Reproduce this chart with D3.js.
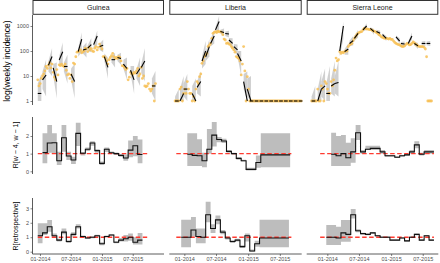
<!DOCTYPE html>
<html lang="en">
<head>
<meta charset="UTF-8">
<title>Ebola weekly incidence and R</title>
<script src="https://d3js.org/d3.v7.min.js"></script>
<style>
  body { margin: 0; background: #fff; }
  text { font-family: "Liberation Sans", Arial, sans-serif; }
  .tick text { fill: #4d4d4d; font-size: 5.5px; }
  .tick line { stroke: #333; stroke-width: 0.6; }
</style>
</head>
<body>
<svg id="chart" width="440" height="263"></svg>
<script>
// ---- data ----
const countries = ["Guinea", "Liberia", "Sierra Leone"];
const firstWeek = ["2013-12-19", "2013-11-09", "2013-10-03"];
const xDomains = [["2013-11-18", "2016-01-01"], ["2013-10-07", "2015-11-03"], ["2013-09-05", "2015-09-28"]];
const xTicks = ["2014-01-01", "2014-07-01", "2015-01-01", "2015-07-01"];
const incTicks = [1, 10, 100, 1000];

// weekly incidence
const incGuinea = [7, 4, 5, 8, 10, 12, 16, 24, 20, 27, 34, 21, 30, 14, 9, 7, 18, 11, 28, 26,
  30, 26, 24, 30, 17, 11, 12, 8, 11, 6, 33, 30, 59, 90, 94, 100, 110, 85, 95, 100,
  130, 120, 95, 140, 110, 125, 100, 95, 130, 150, 110, 140, 190, 150, 120, 60, 59, 50, 40, 30,
  45, 55, 65, 80, 60, 50, 55, 50, 60, 55, 40, 26, 25, 22, 18, 20, 7, 9, 14, 12,
  12, 14, 13, 16, 20, 10, 12, 22, 8, 10, 4, 3.7, 4, 5, 3, 2.5, 3, 4, 1, 5];
const incLiberia = [1, 1, 1, 1, 3, 3.6, 1, 2, 3, 2, 6, 3, 2, 2, 1, 1.5, 1, 3, 6, 5,
  9.4, 12, 32, 40, 59, 70, 80, 150, 170, 200, 320, 510, 560, 600, 550, 620, 580, 600, 560, 450,
  300, 275, 200, 210, 190, 180, 150, 130, 110, 90, 60, 55, 50, 40, 11, 30, 150, 16, 1, 9.4,
  3, 1, 1, 1, 1, 1, 1, 1, 1, 1, 1, 1, 1, 1, 1, 1, 1, 1, 1, 1,
  1, 1, 1, 1, 1, 1, 1, 1, 1, 1, 1, 1, 1, 1, 1, 1, 1, 1, 1, 1, 1, 1, 1, 1];
const incSierraLeone = [1, 1, 1, 1, 1, 3, 1, 1, 4, 3, 1, 6, 5, 3, 2, 2, 6, 4, 7, 17,
  52, 40, 45, 94, 80, 90, 85, 95, 100, 100, 150, 175, 190, 200, 260, 320, 380, 450, 510, 560,
  580, 600, 700, 800, 780, 760, 750, 720, 710, 700, 650, 620, 600, 550, 510, 450, 420, 370, 350, 330,
  320, 330, 310, 300, 320, 290, 290, 250, 220, 200, 190, 180, 175, 160, 150, 150, 160, 180, 200, 190,
  175, 180, 200, 230, 210, 190, 175, 160, 150, 150, 150, 150, 140, 120, 59, 1, 1, 1, 1];

// projections: [start week, median start, median end, low start, high start, low end, high end]
const projGuinea = [[0, 2, 2, 1, 5, 1, 12], [4, 7, 11, 3, 15, 1.5, 45], [9, 27, 60, 15, 40, 10, 130],
  [13, 21, 6, 10, 30, 1.3, 35], [18, 44, 94, 25, 60, 25, 220], [22, 24, 24, 15, 35, 5, 70],
  [28, 12, 6, 7, 20, 1.3, 30], [34, 94, 300, 60, 130, 90, 550], [38, 110, 120, 80, 150, 55, 220],
  [42, 130, 180, 100, 170, 90, 320], [47, 180, 400, 130, 230, 180, 650], [52, 150, 170, 110, 200, 90, 280],
  [56, 60, 22, 40, 80, 8, 55], [62, 45, 45, 35, 60, 22, 85], [67, 55, 50, 40, 70, 28, 85],
  [72, 30, 20, 20, 45, 7, 55], [78, 17, 7, 12, 25, 2, 25], [83, 12, 20, 8, 18, 4, 55],
  [87, 22, 40, 14, 30, 6, 130], [96, 4, 4, 2, 8, 1, 16]];
const projLiberia = [[0, 1, 1, 1, 1.5, 1, 3], [4, 1, 2, 1, 3, 1, 10], [7, 3, 3, 1.5, 5, 1, 12],
  [14, 2, 1, 1, 4, 1, 8], [18, 3.5, 6, 2, 6, 1.5, 15], [22, 40, 100, 20, 60, 30, 250],
  [25, 59, 150, 40, 90, 60, 300], [29, 200, 400, 150, 300, 200, 700], [33, 700, 1500, 500, 900, 700, 2500],
  [37, 600, 550, 500, 700, 400, 800], [41, 500, 480, 400, 600, 350, 650], [44, 275, 200, 220, 330, 120, 320],
  [48, 150, 110, 120, 190, 60, 180], [51, 80, 40, 60, 100, 10, 100], [56, 6, 1, 3, 12, 1, 15],
  [59, 3, 1, 1.5, 8, 1, 10], [61, 1, 1, 1, 1, 1, 1], [65, 1, 1, 1, 1, 1, 1], [69, 1, 1, 1, 1, 1, 1],
  [73, 1, 1, 1, 1, 1, 1], [77, 1, 1, 1, 1, 1, 1], [81, 1, 1, 1, 1, 1, 1], [85, 1, 1, 1, 1, 1, 1],
  [89, 1, 1, 1, 1, 1, 1], [93, 1, 1, 1, 1, 1, 1], [97, 1, 1, 1, 1, 1, 1], [101, 1, 1, 1, 1, 1, 1]];
const projSierraLeone = [[0, 1, 1, 1, 1.5, 1, 4], [5, 1, 3, 1, 3, 1, 15], [8, 3, 4, 1.5, 6, 1, 20],
  [12, 2, 2, 1, 5, 1, 25], [16, 4, 5, 2, 8, 1.5, 40], [19, 5, 5.5, 2, 10, 1.5, 40],
  [23, 100, 1000, 60, 150, 300, 1500], [27, 94, 120, 70, 120, 70, 200], [31, 200, 260, 150, 260, 170, 400],
  [35, 320, 510, 250, 400, 350, 700], [42, 700, 1000, 600, 800, 700, 1300], [48, 800, 600, 700, 900, 450, 750],
  [53, 600, 510, 520, 700, 400, 640], [58, 450, 320, 390, 510, 250, 400], [69, 370, 250, 320, 420, 190, 320],
  [73, 200, 190, 170, 230, 150, 240], [79, 200, 400, 170, 240, 280, 550], [84, 200, 160, 170, 240, 120, 210],
  [90, 200, 200, 170, 240, 160, 250], [94, 200, 200, 170, 240, 160, 250]];

// R over previous 4 weeks, one value per 4-week block
const rStart = [4, 10, 16];
const rGuinea = [1.06, 1.6, 1.62, 0.6, 1.9, 0.87, 0.64, 2.15, 1.02, 1.25, 1.6, 1.17, 0.45, 1.25, 1.05, 1.0, 0.9, 0.75, 1.2, 1.45, 0.95];
const rGuineaLo = [0.45, 1.05, 1.0, 0.36, 1.11, 0.64, 0.42, 1.43, 0.9, 1.15, 1.45, 1.05, 0.35, 1.1, 0.98, 0.93, 0.83, 0.6, 0.8, 0.85, 0.45];
const rGuineaHi = [2.15, 2.62, 2.15, 1.11, 2.62, 1.11, 0.82, 2.75, 1.1, 1.35, 1.7, 1.25, 0.55, 1.35, 1.12, 1.07, 0.97, 0.95, 1.75, 2.0, 1.8];
const rLiberia = [0.97, 0.9, 0.88, 0.6, 1.25, 2.05, 1.8, 1.72, 1.13, 1.0, 0.73, 0.6, 0.11, 0.11, 0.5, 0.93, 0.93, 0.93, 0.93, 0.93, 0.93];
const rLiberiaLo = [0.3, 0.3, 0.3, 0.23, 1.0, 1.4, 1.65, 1.6, 1.05, 0.95, 0.65, 0.55, 0.05, 0.05, 0.2, 0.23, 0.23, 0.23, 0.23, 0.23, 0.23];
const rLiberiaHi = [2.15, 2.15, 1.81, 1.05, 2.4, 2.8, 1.95, 1.85, 1.2, 1.05, 0.8, 0.65, 0.2, 0.2, 0.9, 2.15, 2.15, 2.15, 2.15, 2.15, 2.15];
const rSierraLeone = [0.97, 0.88, 1.0, 0.77, 1.1, 2.18, 1.1, 1.25, 1.3, 1.3, 1.1, 0.88, 0.88, 0.8, 0.88, 0.93, 1.1, 1.5, 0.97, 1.1, 1.1];
const rSierraLeoneLo = [0.3, 0.3, 0.3, 0.3, 0.49, 1.77, 1.0, 1.2, 1.2, 1.2, 1.0, 0.83, 0.83, 0.75, 0.83, 0.88, 1.0, 1.3, 0.9, 1.0, 1.0];
const rSierraLeoneHi = [2.19, 2.0, 2.05, 1.62, 1.87, 2.62, 1.2, 1.45, 1.45, 1.45, 1.2, 0.93, 0.93, 0.85, 0.93, 0.98, 1.2, 1.7, 1.05, 1.2, 1.2];

// retrospective R, one value per 4-week block
const retStart = [0, 5, 12];
const retGuinea = [1.1, 1.3, 1.72, 1.1, 0.8, 1.35, 0.7, 1.2, 1.72, 1.05, 0.95, 1.0, 1.1, 0.55, 1.05, 1.15, 0.65, 0.8, 0.9, 1.0, 0.65, 0.8];
const retGuineaLo = [0.58, 1.15, 1.38, 0.95, 0.7, 1.2, 0.6, 1.05, 1.6, 0.98, 0.88, 0.93, 1.03, 0.45, 0.98, 1.08, 0.58, 0.7, 0.7, 0.75, 0.5, 0.5];
const retGuineaHi = [1.96, 1.96, 2.19, 1.25, 0.9, 1.6, 0.8, 1.35, 1.9, 1.12, 1.02, 1.07, 1.17, 0.65, 1.12, 1.22, 0.72, 0.95, 1.15, 1.25, 1.0, 1.3];
const retLiberia = [1.0, 1.0, 1.5, 1.05, 1.0, 2.55, 1.6, 2.2, 1.35, 0.95, 0.7, 0.8, 0.35, 1.1, 0.05, 0.55, 0.95, 0.95, 0.95, 0.95, 0.95, 0.95];
const retLiberiaLo = [0.3, 0.3, 1.05, 0.58, 0.58, 2.03, 1.3, 1.9, 1.2, 0.85, 0.6, 0.7, 0.25, 0.7, 0.0, 0.35, 0.3, 0.3, 0.3, 0.3, 0.3, 0.3];
const retLiberiaHi = [2.2, 2.2, 2.4, 1.6, 1.6, 3.45, 1.9, 2.5, 1.5, 1.05, 0.8, 0.9, 0.45, 1.25, 0.15, 0.75, 2.2, 2.2, 2.2, 2.2, 2.2, 2.2];
const retSierraLeone = [1.0, 1.0, 0.95, 1.3, 1.2, 2.55, 1.45, 1.25, 1.2, 1.3, 1.1, 1.0, 1.0, 0.8, 0.8, 0.95, 0.75, 1.0, 1.2, 0.8, 1.1, 0.8];
const retSierraLeoneLo = [0.46, 0.46, 0.46, 0.69, 0.69, 2.3, 1.35, 1.19, 1.14, 1.24, 1.04, 0.94, 0.94, 0.74, 0.74, 0.89, 0.69, 0.94, 1.14, 0.74, 1.04, 0.74];
const retSierraLeoneHi = [1.84, 1.84, 1.73, 2.19, 2.19, 2.95, 1.55, 1.31, 1.26, 1.36, 1.16, 1.06, 1.06, 0.86, 0.86, 1.01, 0.81, 1.06, 1.26, 0.86, 1.16, 0.86];

// extent of the dashed R = 1 reference line, in weeks
const refLine = [[0, 92], [1, 95], [7, 100]];

// ---- layout ----
const svg = d3.select("#chart");
const panelX = [[32.5, 164], [169.3, 301.7], [306.7, 438.3]];
const rows = [
  { top: 15, bottom: 105 },
  { top: 117, bottom: 174 },
  { top: 198, bottom: 254 }
];
const yInc = d3.scaleLog().domain([1, 1000]).range([101, 26]);
const yR = d3.scaleLinear().domain([0, 2]).range([171.3, 136]);
const yRet = d3.scaleLinear().domain([0, 3]).range([251.7, 208.3]);

const parse = d3.timeParse("%Y-%m-%d");
const wk = (start, i) => new Date(start.getTime() + i * 7 * 864e5);
const projSpan = 3;

const inc = [incGuinea, incLiberia, incSierraLeone];
const proj = [projGuinea, projLiberia, projSierraLeone];
const rVals = [[rGuinea, rGuineaLo, rGuineaHi], [rLiberia, rLiberiaLo, rLiberiaHi], [rSierraLeone, rSierraLeoneLo, rSierraLeoneHi]];
const retVals = [[retGuinea, retGuineaLo, retGuineaHi], [retLiberia, retLiberiaLo, retLiberiaHi], [retSierraLeone, retSierraLeoneLo, retSierraLeoneHi]];

function steps(start, vals, lo, hi) {
  const pts = vals.map((v, k) => ({ t: wk(start, k * 4), v: v, lo: lo[k], hi: hi[k] }));
  const n = vals.length - 1;
  pts.push({ t: wk(start, vals.length * 4), v: vals[n], lo: lo[n], hi: hi[n] });
  return pts;
}

countries.forEach((name, c) => {
  const x0 = panelX[c][0], x1 = panelX[c][1];
  const x = d3.scaleTime().domain(xDomains[c].map(parse)).range([x0, x1]);
  const start = parse(firstWeek[c]);

  // strip
  svg.append("rect").attr("x", x0 + 0.5).attr("y", 0.5).attr("width", x1 - x0 - 1).attr("height", 13.8)
    .attr("fill", "#fff").attr("stroke", "#333").attr("stroke-width", 1);
  svg.append("text").attr("x", (x0 + x1) / 2).attr("y", 10).attr("text-anchor", "middle")
    .attr("font-size", 7).attr("fill", "#1a1a1a").text(name);

  // --- row 1: incidence with projections ---
  const g1 = svg.append("g");
  const band = d3.area().x(d => x(d.t)).y0(d => yInc(d.lo)).y1(d => yInc(d.hi));
  proj[c].forEach(p => {
    const a = wk(start, p[0]), b = wk(start, p[0] + projSpan);
    g1.append("path").datum([{ t: a, lo: p[3], hi: p[4] }, { t: b, lo: p[5], hi: p[6] }])
      .attr("d", band).attr("fill", "#c4c4c4").attr("fill-opacity", 0.8);
  });
  g1.selectAll("circle").data(inc[c]).join("circle")
    .attr("cx", (d, i) => x(wk(start, i))).attr("cy", d => yInc(d)).attr("r", 1.4)
    .attr("fill", "#f7bf55").attr("fill-opacity", 0.85);
  proj[c].forEach(p => {
    g1.append("line")
      .attr("x1", x(wk(start, p[0]))).attr("y1", yInc(p[1]))
      .attr("x2", x(wk(start, p[0] + projSpan))).attr("y2", yInc(p[2]))
      .attr("stroke", "#000").attr("stroke-width", 1.1);
  });

  // --- rows 2 and 3: step R estimates ---
  [[rVals, rStart, yR], [retVals, retStart, yRet]].forEach(([vals, st, y]) => {
    const pts = steps(wk(start, st[c]), vals[c][0], vals[c][1], vals[c][2]);
    svg.append("path").datum(pts)
      .attr("d", d3.area().curve(d3.curveStepAfter).x(d => x(d.t)).y0(d => y(d.lo)).y1(d => y(d.hi)))
      .attr("fill", "#bdbdbd");
    svg.append("line")
      .attr("x1", x(wk(start, refLine[c][0]))).attr("x2", x(wk(start, refLine[c][1])))
      .attr("y1", y(1)).attr("y2", y(1))
      .attr("stroke", "#ff3b30").attr("stroke-width", 1.4).attr("stroke-dasharray", "4.5,2.5");
    svg.append("path").datum(pts)
      .attr("d", d3.line().curve(d3.curveStepAfter).x(d => x(d.t)).y(d => y(d.v)))
      .attr("fill", "none").attr("stroke", "#111").attr("stroke-width", 1.1);
  });

  // x axis on bottom row
  const ax = svg.append("g").attr("transform", `translate(0,${rows[2].bottom})`)
    .call(d3.axisBottom(x).tickValues(xTicks.map(parse)).tickFormat(d3.timeFormat("%m-%Y")).tickSize(2).tickPadding(1.5));
  ax.select(".domain").attr("stroke", "#333").attr("stroke-width", 0.8).attr("d", `M${x0},0H${x1}`);
});

// y axes on left column
const axisX = panelX[0][0];
[[yInc, incTicks, rows[0]], [yR, [0, 1, 2], rows[1]], [yRet, [0, 1, 2, 3], rows[2]]].forEach(([y, tv, r]) => {
  const ay = svg.append("g").attr("transform", `translate(${axisX},0)`)
    .call(d3.axisLeft(y).tickValues(tv).tickFormat(d3.format("d")).tickSize(2).tickPadding(1.5));
  ay.select(".domain").attr("stroke", "#333").attr("stroke-width", 0.8).attr("d", `M0,${r.top}V${r.bottom}`);
});

// axis titles
const titles = [["log(weekly incidence)", 7.5, 61, 8.5], ["R[w \u2212 4, w \u2212 1]", 16, 145, 7], ["R[retrospective]", 16, 226, 7]];
titles.forEach(([t, tx, ty, fs]) => {
  svg.append("text").attr("transform", `translate(${tx},${ty}) rotate(-90)`)
    .attr("text-anchor", "middle").attr("dy", "0.35em").attr("font-size", fs).attr("fill", "#000").text(t);
});
</script>
</body>
</html>
